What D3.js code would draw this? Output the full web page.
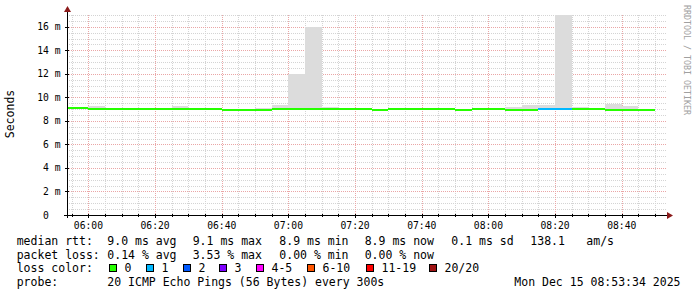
<!DOCTYPE html>
<html lang="en">
<head>
<meta charset="utf-8">
<title>SmokePing latency</title>
<script src="https://d3js.org/d3.v7.min.js"></script>
<style>
body { margin: 0; background: #fff; }
svg text { font-family: "DejaVu Sans Mono", monospace; fill: #000; white-space: pre; }
.grid-minor { stroke: #d4d4d4; stroke-dasharray: 1,1; shape-rendering: crispEdges; }
.grid-major { stroke: #eaa6a6; stroke-dasharray: 1,1; shape-rendering: crispEdges; }
.axis-line { stroke: #000; shape-rendering: crispEdges; }
</style>
</head>
<body>
<script>
// bin start times (5 min steps, 300s rrd)
var binStart = ["05:50","05:55","06:00","06:05","06:10","06:15","06:20","06:25","06:30","06:35",
                "06:40","06:45","06:50","06:55","07:00","07:05","07:10","07:15","07:20","07:25",
                "07:30","07:35","07:40","07:45","07:50","07:55","08:00","08:05","08:10","08:15",
                "08:20","08:25","08:30","08:35","08:40","08:45"];
// median rtt in ms
var median = [9.08,9.08,9.03,9.03,8.97,9.05,9.05,9.00,8.97,8.97,
              8.92,8.92,8.92,8.97,9.05,9.05,9.05,9.05,8.97,8.92,
              8.97,8.97,9.05,9.00,8.94,9.05,9.05,8.94,8.94,9.05,
              9.05,9.05,8.97,8.92,8.92,8.92];
// smoke: highest and lowest ping in each bin (ms)
var smokeMax = [9.10,9.10,9.25,9.06,9.00,9.08,9.08,9.28,9.00,9.00,
                8.95,8.95,9.10,9.36,12.0,15.95,9.15,9.08,9.00,8.95,
                9.10,9.10,9.08,9.03,8.97,9.08,9.08,9.17,9.34,9.34,
                17.5,9.17,9.00,9.47,9.28,8.95];
var smokeMin = [9.05,9.05,8.98,8.99,8.93,9.00,9.00,8.95,8.92,8.92,
                8.88,8.88,8.88,8.93,8.98,8.98,9.00,9.00,8.92,8.88,
                8.92,8.92,9.00,8.90,8.90,9.00,8.95,8.88,8.90,9.00,
                9.00,9.00,8.93,8.88,8.88,8.88];
// lost pings out of 20
var loss = [0,0,0,0,0,0,0,0,0,0,0,0,0,0,0,0,0,0,0,0,
            0,0,0,0,0,0,0,0,0,1,1,0,0,0,0,0];

var yTicks = [0, 2, 4, 6, 8, 10, 12, 14, 16];
var yTickLabels = ["0  ", "2 m", "4 m", "6 m", "8 m", "10 m", "12 m", "14 m", "16 m"];
var xTickLabels = ["06:00","06:20","06:40","07:00","07:20","07:40","08:00","08:20","08:40"];

var lossNames = ["0", "1", "2", "3", "4-5", "6-10", "11-19", "20/20"];
var lossColors = ["#26ff00", "#00b8ff", "#0059ff", "#7e00ff", "#ff00ff", "#ff5500", "#ff0000", "#a01414"];

var rttLegend = ["median rtt:", "9.0 ms avg", "9.1 ms max", "8.9 ms min", "8.9 ms now", "0.1 ms sd", "138.1", "am/s"];
var lossLegend = ["packet loss:", "0.14 % avg", "3.53 % max", "0.00 % min", "0.00 % now"];
var probeLegend = ["probe:", "20 ICMP Echo Pings (56 Bytes) every 300s"];
var stamp = "Mon Dec 15 08:53:34 2025";

//Dimensions
var w = 697, h = 297;
var plotLeft = 67, plotRight = 667, plotTop = 15, plotBottom = 215;

var parseHM = d3.timeParse("%H:%M");
var parseHMS = d3.timeParse("%H:%M:%S");

var xScale = d3.scaleTime()
    .domain([parseHMS("05:53:34"), parseHMS("08:53:34")])
    .range([plotLeft, plotRight]);

var yScale = d3.scaleLinear()
    .domain([0, 17])
    .range([plotBottom, plotTop]);

var svg = d3.select("body").append("svg")
    .attr("width", w)
    .attr("height", h);

var clip = svg.append("clipPath").attr("id", "plot")
    .append("rect")
    .attr("x", plotLeft).attr("y", plotTop)
    .attr("width", plotRight - plotLeft).attr("height", plotBottom - plotTop);

var bins = binStart.map(function(s, i) {
    var t0 = parseHM(s);
    return {
        t0: t0,
        t1: d3.timeMinute.offset(t0, 5),
        med: median[i], hi: smokeMax[i], lo: smokeMin[i], loss: loss[i]
    };
});

function lossColor(n) {
    if (n <= 3) return lossColors[n];
    if (n <= 5) return lossColors[4];
    if (n <= 10) return lossColors[5];
    if (n <= 19) return lossColors[6];
    return lossColors[7];
}

//Grid: minor
var minorX = d3.timeMinute.every(5).range(xScale.domain()[0], xScale.domain()[1]);
var majorX = d3.timeMinute.every(20).range(xScale.domain()[0], xScale.domain()[1]);
var minorY = d3.range(0.5, 17.01, 0.5).filter(function(v) { return v % 2 !== 0; });

var grid = svg.append("g");
grid.selectAll(".gmx").data(minorX.filter(function(d) { return d.getMinutes() % 20 !== 0; }))
    .enter().append("line").attr("class", "grid-minor")
    .attr("x1", function(d) { return Math.round(xScale(d)) + 0.5; })
    .attr("x2", function(d) { return Math.round(xScale(d)) + 0.5; })
    .attr("y1", plotTop).attr("y2", plotBottom);
grid.selectAll(".gmy").data(minorY)
    .enter().append("line").attr("class", "grid-minor")
    .attr("x1", plotLeft).attr("x2", plotRight)
    .attr("y1", function(d) { return Math.round(yScale(d)) + 0.5; })
    .attr("y2", function(d) { return Math.round(yScale(d)) + 0.5; });
grid.selectAll(".gMx").data(majorX)
    .enter().append("line").attr("class", "grid-major")
    .attr("x1", function(d) { return Math.round(xScale(d)) + 0.5; })
    .attr("x2", function(d) { return Math.round(xScale(d)) + 0.5; })
    .attr("y1", plotTop).attr("y2", plotBottom);
grid.selectAll(".gMy").data(yTicks.slice(1))
    .enter().append("line").attr("class", "grid-major")
    .attr("x1", plotLeft).attr("x2", plotRight)
    .attr("y1", function(d) { return Math.round(yScale(d)) + 0.5; })
    .attr("y2", function(d) { return Math.round(yScale(d)) + 0.5; });

//Smoke
var data = svg.append("g").attr("clip-path", "url(#plot)");
data.selectAll(".smoke").data(bins).enter().append("rect")
    .attr("x", function(d) { return xScale(d.t0); })
    .attr("width", function(d) { return xScale(d.t1) - xScale(d.t0); })
    .attr("y", function(d) { return yScale(d.hi); })
    .attr("height", function(d) { return yScale(d.lo) - yScale(d.hi); })
    .attr("fill", "#dcdcdc")
    .attr("shape-rendering", "crispEdges");

//Median, coloured by loss
data.selectAll(".median").data(bins).enter().append("rect")
    .attr("x", function(d) { return xScale(d.t0); })
    .attr("width", function(d) { return xScale(d.t1) - xScale(d.t0); })
    .attr("y", function(d) { return yScale(d.med) - 1; })
    .attr("height", 2)
    .attr("fill", function(d) { return lossColor(d.loss); })
    .attr("shape-rendering", "crispEdges");

//Axes
svg.append("line").attr("class", "axis-line")
    .attr("x1", plotLeft - 3).attr("x2", plotRight + 2)
    .attr("y1", plotBottom + 0.5).attr("y2", plotBottom + 0.5);
svg.append("line").attr("class", "axis-line")
    .attr("x1", plotLeft + 0.5).attr("x2", plotLeft + 0.5)
    .attr("y1", plotBottom + 3).attr("y2", plotTop - 4);
svg.append("path")
    .attr("d", "M" + (plotRight + 6) + "," + (plotBottom + 0.5) + "l-6,-3.5v7z")
    .attr("fill", "#8b1a1a");
svg.append("path")
    .attr("d", "M" + (plotLeft + 0.5) + "," + (plotTop - 9) + "l-3.5,6h7z")
    .attr("fill", "#8b1a1a");

//Ticks
svg.selectAll(".xt").data(minorX).enter().append("line")
    .attr("class", "axis-line")
    .attr("x1", function(d) { return Math.round(xScale(d)) + 0.5; })
    .attr("x2", function(d) { return Math.round(xScale(d)) + 0.5; })
    .attr("y1", plotBottom - 1)
    .attr("y2", function(d) { return d.getMinutes() % 20 === 0 ? plotBottom + 3 : plotBottom + 2; });
svg.selectAll(".yt").data(yTicks).enter().append("line")
    .attr("class", "axis-line")
    .attr("x1", plotLeft - 2).attr("x2", plotLeft + 2)
    .attr("y1", function(d) { return Math.round(yScale(d)) + 0.5; })
    .attr("y2", function(d) { return Math.round(yScale(d)) + 0.5; });

//Tick labels
svg.selectAll(".xl").data(xTickLabels).enter().append("text")
    .attr("x", function(d) { return xScale(parseHM(d)); })
    .attr("y", 229)
    .attr("text-anchor", "middle")
    .style("font-size", "9.7px")
    .text(function(d) { return d; });
svg.selectAll(".yl").data(yTicks).enter().append("text")
    .attr("x", 60.5)
    .attr("y", function(d) { return yScale(d) + 3.5; })
    .attr("text-anchor", "end")
    .style("font-size", "9.7px")
    .text(function(d, i) { return yTickLabels[i]; });

//Axis title and watermark
svg.append("text")
    .attr("transform", "translate(14,114) rotate(-90)")
    .attr("text-anchor", "middle")
    .style("font-size", "11.5px")
    .text("Seconds");
svg.append("text")
    .attr("transform", "translate(684,5) rotate(90)")
    .style("font-size", "8.3px")
    .style("fill", "#a0a0a0")
    .text("RRDTOOL / TOBI OETIKER");

//Legend
var fs = "11.5px";
var rttX = [16.7, 107.3, 192.7, 279.3, 364.7, 451.3, 530.3, 586.3];
rttLegend.forEach(function(s, i) {
    svg.append("text").attr("x", rttX[i]).attr("y", 245).style("font-size", fs).text(s);
});
var lossX = [16.7, 107.3, 192.7, 279.3, 364.7];
lossLegend.forEach(function(s, i) {
    svg.append("text").attr("x", lossX[i]).attr("y", 258.5).style("font-size", fs).text(s);
});
svg.append("text").attr("x", 16.7).attr("y", 272).style("font-size", fs).text("loss color:");
var boxX = [109, 146, 182.7, 219.3, 256, 306.7, 366, 429.3];
lossNames.forEach(function(s, i) {
    svg.append("rect")
        .attr("x", Math.round(boxX[i]) + 0.5).attr("y", 264.5)
        .attr("width", 7).attr("height", 7)
        .attr("fill", lossColors[i]).attr("stroke", "#000");
    svg.append("text").attr("x", Math.round(boxX[i]) + 15.5).attr("y", 272)
        .style("font-size", fs).text(s);
});
svg.append("text").attr("x", 16.7).attr("y", 286).style("font-size", fs).text(probeLegend[0]);
svg.append("text").attr("x", 107.3).attr("y", 286).style("font-size", fs).text(probeLegend[1]);
svg.append("text").attr("x", 680.5).attr("y", 286).attr("text-anchor", "end")
    .style("font-size", fs).text(stamp);
</script>
</body>
</html>
